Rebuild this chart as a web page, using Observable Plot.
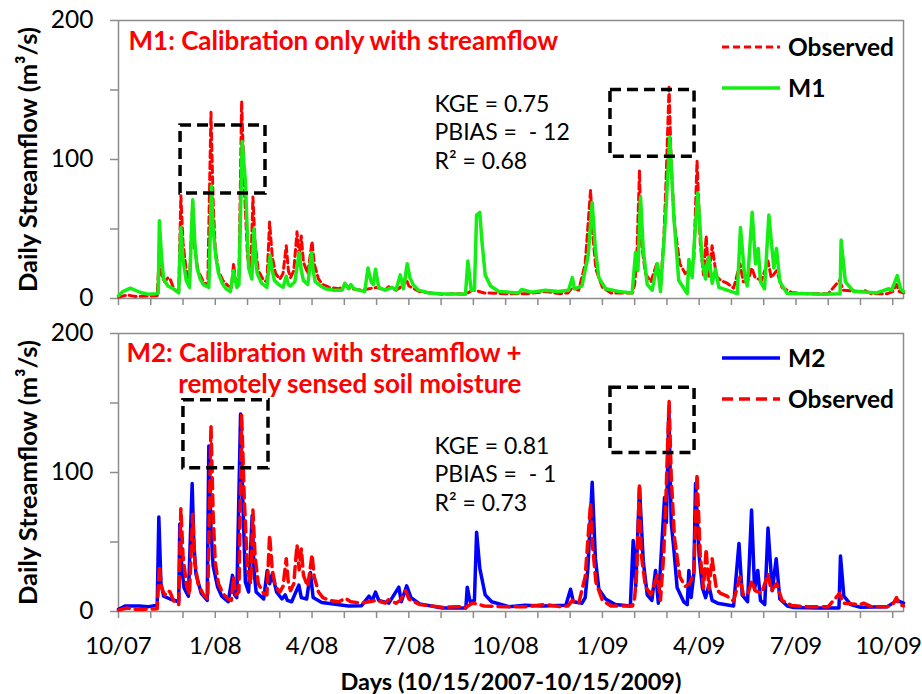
<!DOCTYPE html>
<html><head><meta charset="utf-8">
<script src="https://cdn.jsdelivr.net/npm/d3@7"></script>
<script src="https://cdn.jsdelivr.net/npm/@observablehq/plot@0.6"></script>
<style>
body{margin:0;background:#fff;}
#wrap{position:relative;width:922px;height:694px;font-family:Lato,sans-serif;overflow:hidden;}
#wrap > svg{position:absolute;left:0;}
</style></head><body><div id="wrap"></div>
<script>
// ---- axis / tick labels ----
const xTickLabels = ["10/07","1/08","4/08","7/08","10/08","1/09","4/09","7/09","10/09"];
const xTickLabelDays = [0,90,180,270,360,450,540,630,720];
const xMinorTickDays = [0,30,60,90,120,150,180,210,240,270,300,330,360,390,420,450,480,510,540,570,600,630,660,690,720];
const yTicks = [0,50,100,150,200];
const yLabelTicks = [0,100,200];

// ---- observed daily streamflow (day index from 10/15/2007, m3/s) ----
const obsDays = [0,8,16,30,36,38,40,43,46,48,51,53,56,58,60,63,66,69,71,74,79,83,86,88,90,93,97,102,105,107,109,112,114.5,117,120,123,125,127,130,135,138,140.5,143,146,150,153,156,158,160,163,166,168,170,172,176,180,182,186,190,196,205,211,216,226,233,240,248,251,258,262,267,270,280,301,315,323,329,333,340,360,380,397,410,418,422,428,434,439,441,444,450,458,470,478,480,482,484.5,486,490,495,501,504,507,509,512,514,517,522,527,531,535,538,541,544,546.5,549,552,556,560,566,572,578,581,585,589,592,598,604,607,612,617,626,640,660,670.5,674,690,693,700,715,720,723.5,726,730];
const obsFlow = [1,2.5,1.5,1.8,2,33,17,12,15,14,8,6,5,74,40,20,12,70,35,20,12,9,134,70,35,20,13,9,8,25,12,14,142,80,30,20,73,40,20,13,12,55,30,18,14,18,38,20,15,20,48,30,45,26,18,41,25,14,10,8,7,9.5,7,6,7,8,6,8.5,6,8,15,9,5,3,3.5,3,6,5.5,4,3.5,3.5,5,3.5,4,8,6,25,78,46,21,8,4,4,4,10,30,92,42,18,12,26,8,41,80,152,97,53,25,18,20,27,99,40,17,45,16,38,16,13,11,7.5,25,12,12,22,15,13,27,15,20,8,4.3,3.5,3.5,13,6,5,6,3.5,3.5,5,10,5,4];

// ---- M1: calibration only with streamflow ----
const m1Days = [0,4,11,20,28,35,37,38,40,42,46,51,56,58,60,63,66,69,71,73,76,79,84,86.5,88,90.5,93,96.4,100,104,107,110,112,115,118,121,124,126,128,129,133,138,141,143,145,149,153,156,158,160,164,168,170,172,176,179.5,181,183,188,192.5,200,208,210.5,214,216,219,223.5,229,232,235,237,239,242,248,254.5,258,262,265,268.5,271,274,279,288.6,300,322.7,324.9,328,331,333,336,338,341,346,353.7,372,375,384,397,409,418.5,422,424,431,436.8,440.5,443.5,446.7,453,465,477.7,480.8,483,485.5,488,491.7,496.3,501,504,508.7,512.7,516.4,521,528.9,530.4,533.5,535,538.7,542.8,545.9,549,552.1,555.2,558.3,566.1,575.4,578.4,582.2,584.7,589.3,592.4,594.9,597,600.8,604.8,609.4,611.9,615,621.9,640,655,671,672,676,683.8,697,705,716.4,719,724.2,727.3,730];
const m1Flow = [2,5,7.4,4.5,3,3.5,4,56,30,14,9,7,4,51,28,13,8,71,40,22,14,10,8,81,50,30,18,11,7,5,20,8,10,113,84,22,14,50,25,18,11,8,31,20,13,10,8,16,10,9,12,33,20,13,10,33,20,12,9,7,6,6,11,7,10,7,6,5,22,12,10,21,8,6,8,6,17,7,25,15,10,6,4,3.5,3,27,6,6,60,62,41,17,9,5,4,6.5,4.5,6,5,6,15,7,9,31,69,35,15,7,5,4,33,20,73,35,10,6,25,5,58,116,59,13,3.6,28,15,35,76,27,14,30,11,21,8,6,3.5,51,17,9,62,25,36,12,7,60,22,36,12,3.6,3.5,3,3.5,42,12,5,4.5,4,7,6,16.5,7,5];

// ---- M2: calibration with streamflow + remotely sensed soil moisture ----
const m2Days = [0,6.5,19,28,36,37.5,39.5,42,48,56,57,59,61,65,68.5,70,72,77,82.5,84,86,88,92,96,102,106,108,110,113.5,115.5,118,121,124.3,126,128,135,138.3,140.5,143,147,152,155,157,161,167.7,170,175,178.5,181,189,214,226,233,236,239,242,251.4,260.7,263,268,272,280,301,323,324.3,327,331,333,336,341,347,363,378,394,416,420.4,423,431,434,436.5,440.5,443.5,446.7,453,462,476,478.6,481,484.5,488,491.7,496,499.4,502,507.8,509.5,511.8,514,516.4,519.5,525.6,528.9,530.4,532.5,535,536.6,540,543,546,549,552,557,572,577,580,585,588.7,591.5,594.5,597,601,604,608,611.6,615,622,628,650,670,671.4,674.5,681,690,715,724,730];
const m2Flow = [1.5,4,4,3.5,4.5,68,20,11,9,7,63,30,17,11,92,50,27,13,8,119,60,33,18,11,7,26,12,10,142,83,21,14,69,30,14,9,29.5,20,27,14,9,12,8,7,19,10,9,28,10,6.5,4,4.2,11,8,14,8,6,17.5,7,18.5,10,5.5,2.5,2.5,17.5,7,8,57,31,12,7,3.5,4.5,4,4.5,16,7,6,10,31,93,38,16,9,5,4,51,18,89,36,12,8,29.5,6,82,64,145,64,45,17,7,5,29.5,10,27,92,40,17,10,19,8,6,4,49,12,7,73,16,29.5,8,5,60,15,38,9,4,2.8,2.5,2.5,40,11,5,3,3.5,8,6];

// ---- dashed highlight boxes (day range, flow range) ----
const boxesM1 = [{d1:57.7,d2:136.7,q1:75.5,q2:124.5},{d1:457.5,d2:535.7,q1:102,q2:150}];
const boxesM2 = [{d1:60.4,d2:139.5,q1:103,q2:152},{d1:457.5,d2:535.7,q1:114,q2:161}];

const obs = obsDays.map((d,i)=>({day:d, flow:obsFlow[i]}));
const m1 = m1Days.map((d,i)=>({day:d, flow:m1Flow[i]}));
const m2 = m2Days.map((d,i)=>({day:d, flow:m2Flow[i]}));

const RED = "#ff0000", GREEN = "#13ee13", BLUE = "#0000ff", GRAY = "#8c8c8c";
const FONT = "Lato, sans-serif";
const lastDay = xTickLabelDays[xTickLabelDays.length - 1];
const xLabel = d => xTickLabels[xTickLabelDays.indexOf(d)];

function panel(opts){
  return Plot.plot({
    width: 922, height: opts.height,
    marginLeft: 118, marginRight: 19, marginTop: 20, marginBottom: opts.marginBottom,
    style: {fontFamily: FONT, fontSize: "24px", color: "#000", background: "transparent", overflow: "visible"},
    x: {domain: [0, 730]},
    y: {domain: [0, 200]},
    marks: [
      Plot.frame({stroke: GRAY, strokeWidth: 1.5}),
      Plot.axisY({ticks: yTicks, tickSize: 8, tickFormat: () => "", label: null, stroke: GRAY, strokeWidth: 1.5}),
      Plot.axisY({ticks: yLabelTicks, tickSize: 0, tickPadding: 25, label: null, fontSize: 24.5}),
      Plot.axisY({ticks: [100], tickSize: 0, tickFormat: () => "", label: "Daily Streamflow (m³/s)", labelArrow: "none", labelAnchor: "center", labelOffset: 100, fontWeight: "bold", fontSize: 25.5}),
      Plot.axisX({ticks: xMinorTickDays, tickSize: 7, tickFormat: () => "", label: null, stroke: GRAY, strokeWidth: 1.5}),
      ...(opts.showX ? [
        Plot.axisX({ticks: xTickLabelDays.filter(d => d !== lastDay), tickSize: 0, tickPadding: 25, tickFormat: xLabel, label: null, fontSize: 24}),
        Plot.axisX({ticks: [lastDay], tickSize: 0, tickPadding: 25, tickFormat: xLabel, label: null, fontSize: 24, dx: -4}),
        Plot.axisX({ticks: [360], tickSize: 0, tickFormat: () => "", label: "Days (10/15/2007-10/15/2009)", labelArrow: "none", labelAnchor: "center", labelOffset: 78, fontWeight: "bold", fontSize: 23.5})
      ] : []),
      ...opts.lines,
      Plot.rect(opts.boxes, {x1: "d1", x2: "d2", y1: "q1", y2: "q2", fill: "none", stroke: "#000", strokeWidth: 3.5, strokeDasharray: "11,6"}),
      Plot.text([opts.title], {frameAnchor: "top-left", dx: opts.titleDx, dy: opts.titleDy, lineAnchor: "bottom", textAnchor: opts.titleAnchor, fill: RED, fontWeight: "bold", fontSize: 26, lineHeight: 1.19}),
      Plot.text([opts.stats], {frameAnchor: "top-left", dx: 316, dy: opts.statsDy, lineAnchor: "bottom", textAnchor: "start", fill: "#000", fontSize: 23, lineHeight: 1.22})
    ]
  });
}

const wrap = document.getElementById("wrap");

const topChart = panel({
  height: 312, marginBottom: 14, showX: false,
  lines: [
    Plot.line(obs, {x: "day", y: "flow", stroke: RED, strokeWidth: 3, strokeDasharray: "7,4"}),
    Plot.line(m1, {x: "day", y: "flow", stroke: GREEN, strokeWidth: 3.5})
  ],
  boxes: boxesM1,
  title: "M1: Calibration only with streamflow", titleDx: 10, titleDy: 29, titleAnchor: "start",
  stats: "KGE = 0.75\nPBIAS =\u00a0\u00a0- 12\nR² = 0.68", statsDy: 148
});
topChart.style.top = "0px";
wrap.appendChild(topChart);

const botChart = panel({
  height: 381, marginBottom: 83, showX: true,
  lines: [
    Plot.line(m2, {x: "day", y: "flow", stroke: BLUE, strokeWidth: 3.5}),
    Plot.line(obs, {x: "day", y: "flow", stroke: RED, strokeWidth: 3.5, strokeDasharray: "11,6"})
  ],
  boxes: boxesM2,
  title: "M2: Calibration with streamflow +\nremotely sensed soil moisture", titleDx: 403, titleDy: 59, titleAnchor: "end",
  stats: "KGE = 0.81\nPBIAS =\u00a0\u00a0- 1\nR² = 0.73", statsDy: 177
});
botChart.style.top = "313px";
wrap.appendChild(botChart);

// ---- legends ----
const leg = d3.select(wrap).append("svg").attr("width", 922).attr("height", 694).style("top", "0px").style("pointer-events", "none");
const legendItems = [
  {y: 47, label: "Observed", color: RED, dash: "7,4", w: 3},
  {y: 88, label: "M1", color: GREEN, dash: null, w: 3.5},
  {y: 358, label: "M2", color: BLUE, dash: null, w: 3.5},
  {y: 399, label: "Observed", color: RED, dash: "11,6", w: 3.5}
];
for (const it of legendItems) {
  leg.append("line").attr("x1", 722).attr("x2", 780).attr("y1", it.y).attr("y2", it.y)
    .attr("stroke", it.color).attr("stroke-width", it.w).attr("stroke-dasharray", it.dash);
  leg.append("text").attr("x", 788).attr("y", it.y + 8.5).attr("font-family", FONT).attr("font-weight", "bold")
    .attr("font-size", 24.5).attr("fill", "#000").text(it.label);
}
</script></body></html>
